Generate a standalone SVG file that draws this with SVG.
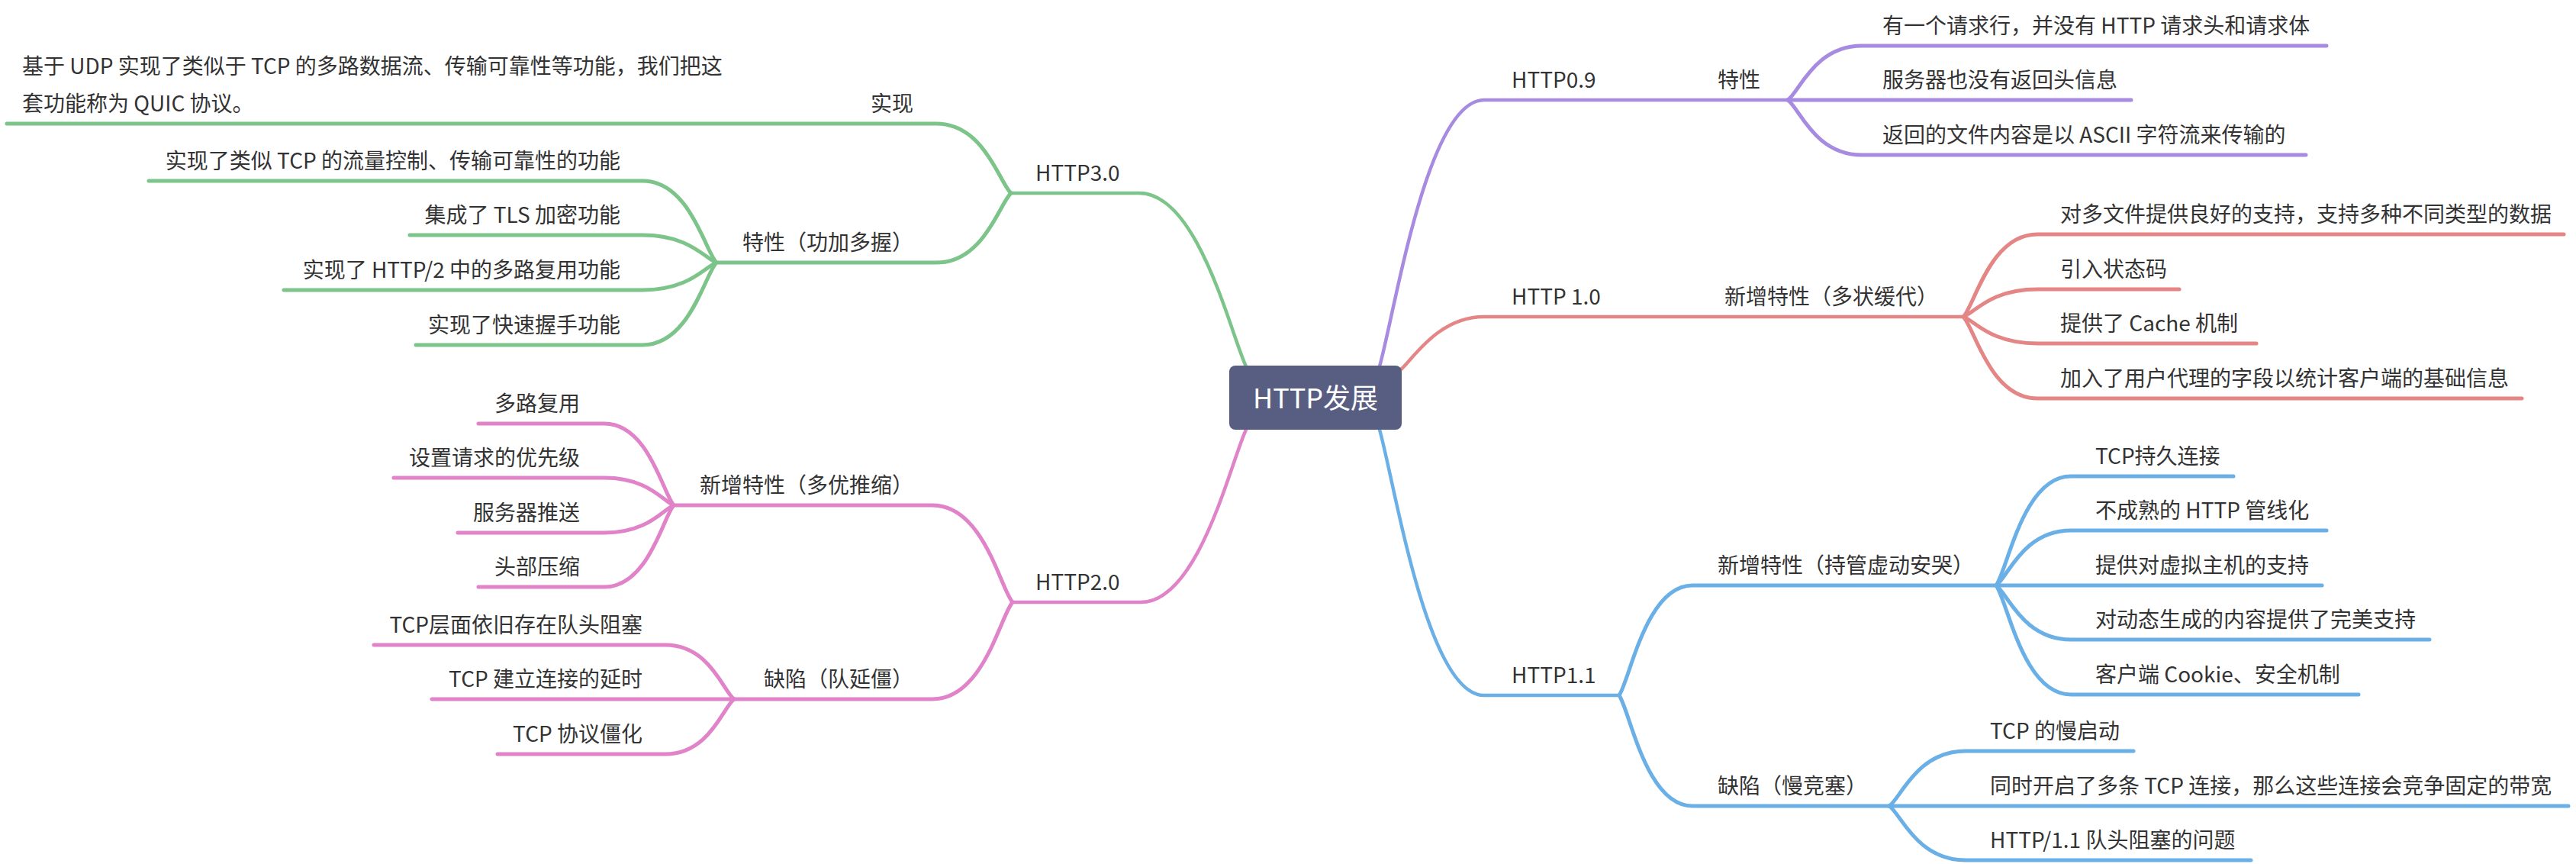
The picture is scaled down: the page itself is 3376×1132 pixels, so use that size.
<svg xmlns="http://www.w3.org/2000/svg" width="3376" height="1132" viewBox="0 0 3376 1132">
<style>
text{font-family:"Noto Sans CJK SC","Noto Sans",sans-serif;font-size:28px;fill:#333333}
.e{text-anchor:end}
.c{fill:none;stroke-linecap:round;stroke-linejoin:round;stroke-width:5}
.m{stroke-width:4.5}
.pu{stroke:#a78be0}.rd{stroke:#e58686}.bl{stroke:#6ab0e6}.gr{stroke:#7cc489}.pk{stroke:#e083c8}
</style>
<rect width="3376" height="1132" fill="#ffffff"/>
<g id="connectors">
<!-- purple HTTP0.9 -->
<path class="c m pu" d="M1808 480 C1828 410 1870 131 1945 131 L2343 131"/>
<path class="c pu" d="M2343 131 C2358 121 2378 60 2440 60 L3049 60"/>
<path class="c pu" d="M2343 131 L2793 131"/>
<path class="c pu" d="M2343 131 C2358 141 2378 203 2440 203 L3022 203"/>
<!-- red HTTP 1.0 -->
<path class="c m rd" d="M1836 484 C1852 470 1885 415 1945 415 L2573 415"/>
<path class="c rd" d="M2573 415 C2588 400 2608 307 2670 307 L3360 307"/>
<path class="c rd" d="M2573 415 C2588 410 2608 379 2670 379 L2856 379"/>
<path class="c rd" d="M2573 415 C2588 420 2608 450 2670 450 L2957 450"/>
<path class="c rd" d="M2573 415 C2588 430 2608 522 2670 522 L3305 522"/>
<!-- blue HTTP1.1 -->
<path class="c m bl" d="M1808 563 C1828 633 1870 911 1945 911 L2122 911"/>
<path class="c bl" d="M2122 911 C2136 891 2157 767 2218 767 L2616 767"/>
<path class="c bl" d="M2122 911 C2136 931 2157 1056 2218 1056 L2476 1056"/>
<path class="c bl" d="M2616 767 C2631 747 2651 624 2714 624 L2927 624"/>
<path class="c bl" d="M2616 767 C2631 757 2651 695 2714 695 L3049 695"/>
<path class="c bl" d="M2616 767 L3043 767"/>
<path class="c bl" d="M2616 767 C2631 777 2651 838 2714 838 L3184 838"/>
<path class="c bl" d="M2616 767 C2631 787 2651 910 2714 910 L3091 910"/>
<path class="c bl" d="M2476 1056 C2491 1046 2512 984 2576 984 L2796 984"/>
<path class="c bl" d="M2476 1056 L3366 1056"/>
<path class="c bl" d="M2476 1056 C2491 1066 2512 1127 2576 1127 L2950 1127"/>
<!-- green HTTP3.0 -->
<path class="c m gr" d="M1633 480 C1612 435 1570 253 1493 253 L1325 253"/>
<path class="c gr" d="M1325 253 C1310 240 1290 162 1227 162 L9 162"/>
<path class="c gr" d="M1325 253 C1310 266 1290 344 1227 344 L939 344"/>
<path class="c gr" d="M939 344 C924 329 904 237 842 237 L195 237"/>
<path class="c gr" d="M939 344 C924 339 904 308 842 308 L537 308"/>
<path class="c gr" d="M939 344 C924 349 904 380 842 380 L372 380"/>
<path class="c gr" d="M939 344 C924 359 904 452 842 452 L545 452"/>
<!-- pink HTTP2.0 -->
<path class="c m pk" d="M1633 563 C1612 608 1571 789 1495 789 L1327 789"/>
<path class="c pk" d="M1327 789 C1311 771 1289 662 1222 662 L883 662"/>
<path class="c pk" d="M1327 789 C1311 807 1289 916 1222 916 L962 916"/>
<path class="c pk" d="M883 662 C869 647 850 555 792 555 L627 555"/>
<path class="c pk" d="M883 662 C869 657 850 626 792 626 L516 626"/>
<path class="c pk" d="M883 662 C869 667 850 698 792 698 L600 698"/>
<path class="c pk" d="M883 662 C869 677 850 769 792 769 L627 769"/>
<path class="c pk" d="M962 916 C948 906 930 845 872 845 L490 845"/>
<path class="c pk" d="M962 916 L566 916"/>
<path class="c pk" d="M962 916 C948 926 930 988 872 988 L652 988"/>
</g>
<g id="root">
<rect x="1611" y="479" width="226" height="84" rx="8" fill="#575e82"/>
<text x="1724" y="535" text-anchor="middle" style="font-size:36px;fill:#ffffff">HTTP发展</text>
</g>
<g id="http09">
<text x="1981" y="115">HTTP0.9</text>
<text x="2251" y="115">特性</text>
<text x="2467" y="44">有一个请求行，并没有 HTTP 请求头和请求体</text>
<text x="2467" y="115">服务器也没有返回头信息</text>
<text x="2467" y="187">返回的文件内容是以 ASCII 字符流来传输的</text>
</g>
<g id="http10">
<text x="1981" y="399">HTTP 1.0</text>
<text x="2260" y="399">新增特性（多状缓代）</text>
<text x="2700" y="291">对多文件提供良好的支持，支持多种不同类型的数据</text>
<text x="2700" y="363">引入状态码</text>
<text x="2700" y="434">提供了 Cache 机制</text>
<text x="2700" y="506">加入了用户代理的字段以统计客户端的基础信息</text>
</g>
<g id="http11">
<text x="1981" y="895">HTTP1.1</text>
<text x="2251" y="751">新增特性（持管虚动安哭）</text>
<text x="2746" y="608">TCP持久连接</text>
<text x="2746" y="679">不成熟的 HTTP 管线化</text>
<text x="2746" y="751">提供对虚拟主机的支持</text>
<text x="2746" y="822">对动态生成的内容提供了完美支持</text>
<text x="2746" y="894">客户端 Cookie、安全机制</text>
<text x="2251" y="1040">缺陷（慢竞塞）</text>
<text x="2608" y="968">TCP 的慢启动</text>
<text x="2608" y="1040">同时开启了多条 TCP 连接，那么这些连接会竞争固定的带宽</text>
<text x="2608" y="1111">HTTP/1.1 队头阻塞的问题</text>
</g>
<g id="http30">
<text x="1357" y="237">HTTP3.0</text>
<text class="e" x="1197" y="146">实现</text>
<text x="29" y="97">基于 UDP 实现了类似于 TCP 的多路数据流、传输可靠性等功能，我们把这</text>
<text x="29" y="146">套功能称为 QUIC 协议。</text>
<text class="e" x="1197" y="328">特性（功加多握）</text>
<text class="e" x="813" y="221">实现了类似 TCP 的流量控制、传输可靠性的功能</text>
<text class="e" x="813" y="292">集成了 TLS 加密功能</text>
<text class="e" x="813" y="364">实现了 HTTP/2 中的多路复用功能</text>
<text class="e" x="813" y="436">实现了快速握手功能</text>
</g>
<g id="http20">
<text x="1357" y="773">HTTP2.0</text>
<text class="e" x="1197" y="646">新增特性（多优推缩）</text>
<text class="e" x="760" y="539">多路复用</text>
<text class="e" x="760" y="610">设置请求的优先级</text>
<text class="e" x="760" y="682">服务器推送</text>
<text class="e" x="760" y="753">头部压缩</text>
<text class="e" x="1197" y="900">缺陷（队延僵）</text>
<text class="e" x="842" y="829">TCP层面依旧存在队头阻塞</text>
<text class="e" x="842" y="900">TCP 建立连接的延时</text>
<text class="e" x="842" y="972">TCP 协议僵化</text>
</g>
</svg>
